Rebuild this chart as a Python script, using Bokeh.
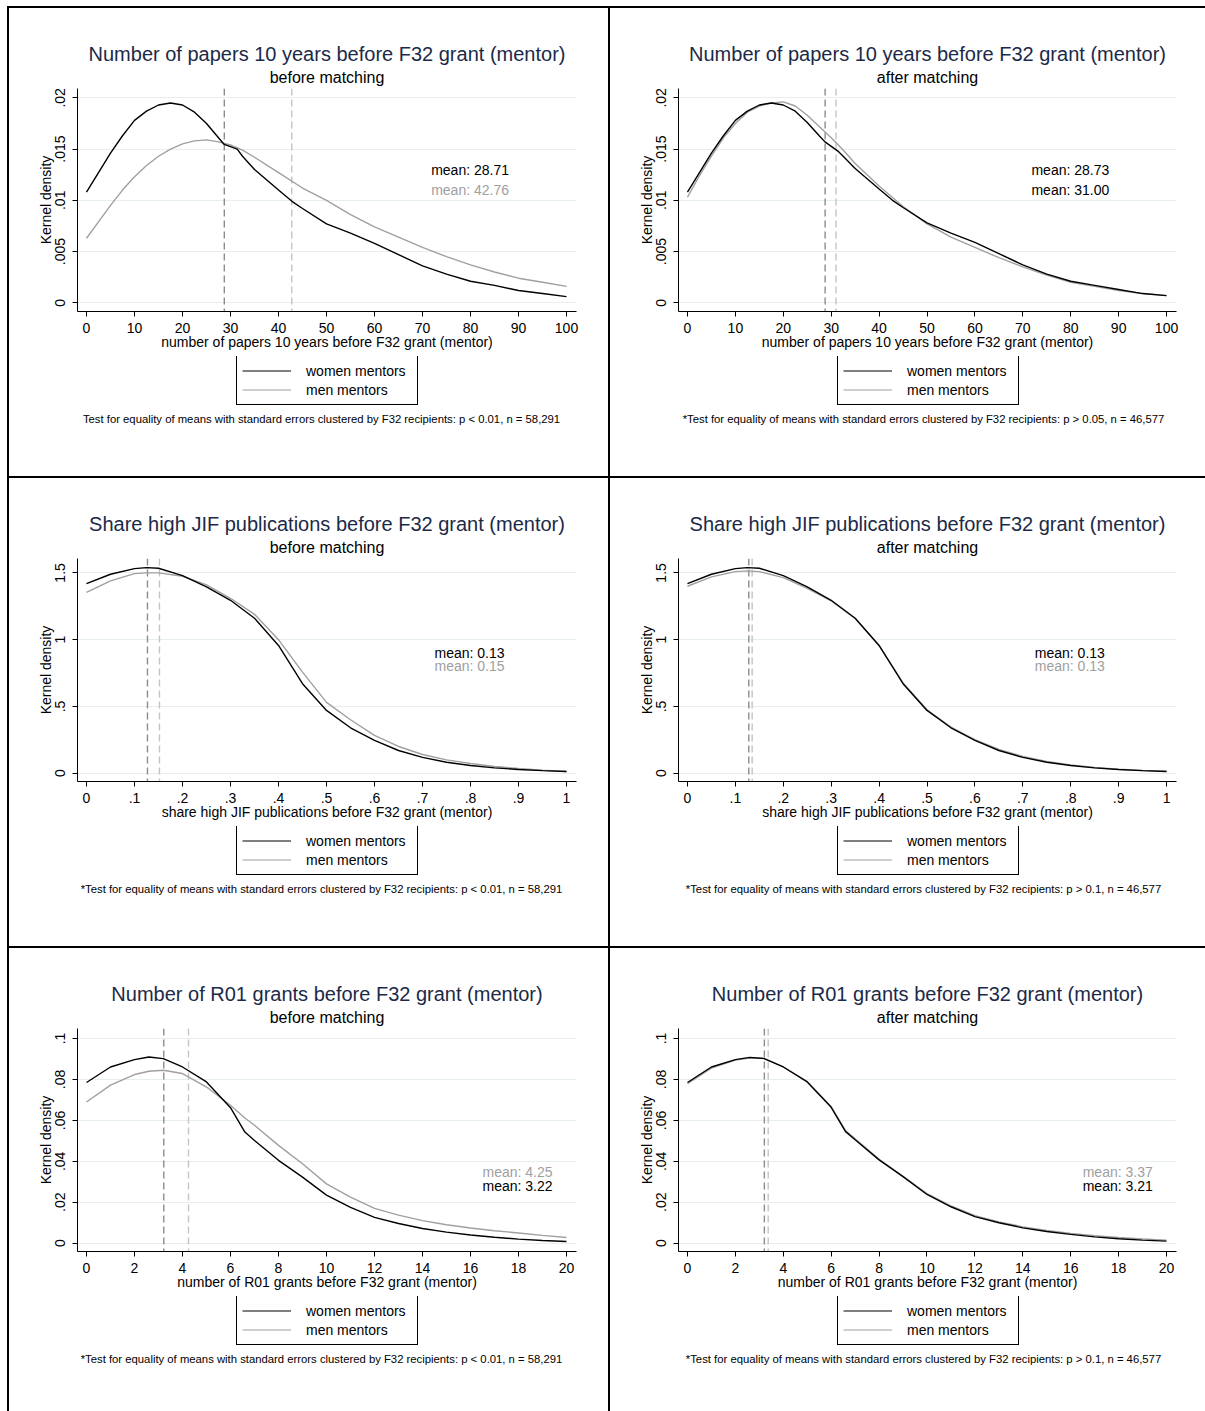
from bokeh.plotting import figure
from bokeh.models import (FixedTicker, Title, Legend, LegendItem, Label, Span, Spacer)
from bokeh.layouts import row, column
from bokeh.embed import file_html
from bokeh.resources import INLINE

FONT = "Liberation Sans"
TITLE_COLOR = "#1c2a48"
BLACK = "#000000"
GRAY = "#a0a0a0"
GRID = "#e6eef1"

# ---------------- data ----------------
# Panel 1/2 : number of papers
pap_x_w = [0, 2.5, 5, 7.5, 10, 12.5, 15, 17.5, 20, 22.5, 25, 27.5, 28.7, 31.4, 32.5, 35, 37.5, 40, 42.8, 45, 50,
           55, 60, 65, 70, 75, 80, 85, 90, 95, 100]
pap_before_w = [0.0108, 0.0127, 0.0146, 0.0163, 0.0178, 0.0187, 0.0193, 0.0195, 0.0193, 0.0186, 0.0175, 0.0161,
                0.01545, 0.0150, 0.0143, 0.0130, 0.0120, 0.0110, 0.0099, 0.0092, 0.0077,
                0.0068, 0.0058, 0.0047, 0.0036, 0.0028, 0.0021, 0.0017, 0.0012, 0.0009, 0.0006]
pap_after_w = [0.0108, 0.0127, 0.0146, 0.0163, 0.0178, 0.0187, 0.0193, 0.0195, 0.0193, 0.0187, 0.0176, 0.0163,
               0.0157, 0.0148, 0.0143, 0.0131, 0.0121, 0.0111, 0.0100, 0.0093, 0.0078,
               0.0068, 0.0059, 0.0048, 0.0037, 0.0028, 0.0021, 0.0017, 0.0013, 0.0009, 0.0007]
pap_x_m = [0, 2.5, 5, 7.5, 10, 12.5, 15, 17.5, 20, 22.5, 25, 27.5, 30, 32.5, 35, 40, 45, 50, 55, 60, 65, 70, 75,
           80, 85, 90, 95, 100]
pap_before_m = [0.0063, 0.0079, 0.0095, 0.0110, 0.0123, 0.0134, 0.0143, 0.0150, 0.0155, 0.0158, 0.0159, 0.0157,
                0.0154, 0.0149, 0.0142, 0.0127, 0.0112, 0.0100, 0.0086, 0.0074, 0.0064, 0.0054, 0.0045,
                0.0037, 0.0030, 0.0024, 0.0020, 0.0016]
pap_after_m = [0.0103, 0.0124, 0.0143, 0.0161, 0.0175, 0.0186, 0.0192, 0.0195, 0.0196, 0.0192, 0.0183, 0.0172,
               0.0161, 0.0149, 0.0136, 0.0114, 0.0094, 0.0077, 0.0064, 0.0054, 0.0044, 0.0035, 0.0027,
               0.0020, 0.0016, 0.0012, 0.0009, 0.0007]

# Panel 3/4 : share high JIF publications
jif_x = [0, 0.05, 0.1, 0.125, 0.15, 0.2, 0.25, 0.3, 0.35, 0.4, 0.45, 0.5, 0.55, 0.6, 0.65, 0.7, 0.75, 0.8, 0.85, 0.9, 0.95, 1.0]
jif_before_w = [1.42, 1.49, 1.532, 1.54, 1.535, 1.48, 1.395, 1.295, 1.16, 0.957, 0.67, 0.47, 0.34, 0.245, 0.17,
                0.118, 0.082, 0.058, 0.040, 0.028, 0.019, 0.013]
jif_before_m = [1.355, 1.44, 1.495, 1.50, 1.50, 1.475, 1.41, 1.31, 1.19, 1.0, 0.757, 0.53, 0.40, 0.283, 0.20,
                0.14, 0.10, 0.073, 0.050, 0.035, 0.022, 0.013]
jif_after_w = [1.42, 1.49, 1.532, 1.54, 1.535, 1.48, 1.395, 1.295, 1.16, 0.957, 0.67, 0.47, 0.34, 0.245, 0.17,
               0.118, 0.082, 0.058, 0.040, 0.028, 0.019, 0.013]
jif_after_m = [1.40, 1.47, 1.51, 1.515, 1.51, 1.465, 1.385, 1.29, 1.16, 0.955, 0.675, 0.475, 0.345, 0.252, 0.178,
               0.125, 0.088, 0.062, 0.043, 0.030, 0.020, 0.014]

# Panel 5/6 : number of R01 grants
r01_x = [0, 1, 2, 2.6, 3.2, 4, 5, 6, 6.6, 7, 8, 9, 10, 11, 12, 13, 14, 15, 16, 17, 18, 19, 20]
r01_before_w = [0.0785, 0.0861, 0.0897, 0.0910, 0.0902, 0.0861, 0.0788, 0.0662, 0.0543, 0.0502, 0.0405, 0.0323,
                0.0235, 0.0175, 0.0126, 0.0096, 0.0072, 0.0054, 0.0040, 0.0029, 0.0020, 0.0013, 0.0008]
r01_before_m = [0.0690, 0.0772, 0.0824, 0.0840, 0.0845, 0.0829, 0.0763, 0.0674, 0.0612, 0.0576, 0.0478, 0.0388,
                0.0290, 0.0225, 0.0170, 0.0137, 0.0110, 0.0090, 0.0074, 0.0061, 0.0050, 0.0038, 0.0028]
r01_after_w = [0.0785, 0.0861, 0.0897, 0.0908, 0.0902, 0.0861, 0.0788, 0.0664, 0.0545, 0.0505, 0.0407, 0.0325,
               0.0238, 0.0178, 0.0130, 0.0100, 0.0075, 0.0057, 0.0043, 0.0031, 0.0022, 0.0015, 0.0010]
r01_after_m = [0.0780, 0.0855, 0.0895, 0.0905, 0.0903, 0.0862, 0.0790, 0.0667, 0.0550, 0.0510, 0.0410, 0.0327,
               0.0242, 0.0182, 0.0135, 0.0104, 0.0080, 0.0062, 0.0048, 0.0037, 0.0028, 0.0021, 0.0015]

# means (dashed lines)
pap_means_before = [28.71, 42.76]
pap_means_after = [28.73, 31.00]
jif_means_before = [0.127, 0.152]
jif_means_after = [0.128, 0.135]
r01_means_before = [3.22, 4.25]
r01_means_after = [3.21, 3.37]

# tick values and labels
pap_xticks = [0, 10, 20, 30, 40, 50, 60, 70, 80, 90, 100]
pap_yticks = [0, 0.005, 0.01, 0.015, 0.02]
pap_ylabels = ["0", ".005", ".01", ".015", ".02"]
jif_xticks = [0, 0.1, 0.2, 0.3, 0.4, 0.5, 0.6, 0.7, 0.8, 0.9, 1.0]
jif_xlabels = ["0", ".1", ".2", ".3", ".4", ".5", ".6", ".7", ".8", ".9", "1"]
jif_yticks = [0, 0.5, 1.0, 1.5]
jif_ylabels = ["0", ".5", "1", "1.5"]
r01_xticks = [0, 2, 4, 6, 8, 10, 12, 14, 16, 18, 20]
r01_yticks = [0, 0.02, 0.04, 0.06, 0.08, 0.1]
r01_ylabels = ["0", ".02", ".04", ".06", ".08", ".1"]

titles = ["Number of papers 10 years before F32 grant (mentor)",
          "Share high JIF publications before F32 grant (mentor)",
          "Number of R01 grants before F32 grant (mentor)"]
xlabels = ["number of papers 10 years before F32 grant (mentor)",
           "share high JIF publications before F32 grant (mentor)",
           "number of R01 grants before F32 grant (mentor)"]
subtitles = ["before matching", "after matching"]
legend_labels = ["women mentors", "men mentors"]
NOTE = "Test for equality of means with standard errors clustered by F32 recipients: "
notes = [[NOTE + "p < 0.01, n = 58,291", "*" + NOTE + "p > 0.05, n = 46,577"],
         ["*" + NOTE + "p < 0.01, n = 58,291", "*" + NOTE + "p > 0.1, n = 46,577"],
         ["*" + NOTE + "p < 0.01, n = 58,291", "*" + NOTE + "p > 0.1, n = 46,577"]]

mean_texts = [
    [[("mean: 28.71", BLACK), ("mean: 42.76", GRAY)], [("mean: 28.73", BLACK), ("mean: 31.00", BLACK)]],
    [[("mean: 0.13", BLACK), ("mean: 0.15", GRAY)], [("mean: 0.13", BLACK), ("mean: 0.13", GRAY)]],
    [[("mean: 4.25", GRAY), ("mean: 3.22", BLACK)], [("mean: 3.37", GRAY), ("mean: 3.21", BLACK)]],
]
mean_pos = [
    (71.8, [0.0130, 0.0110]),
    (0.725, [0.898, 0.80]),
    (16.5, [0.0346, 0.0278]),
]

x_ranges = [(-1.875, 102.08), (-0.01875, 1.0208), (-0.375, 20.417)]
y_ranges = [(-0.00085, 0.02091), (-0.0623, 1.608), (-0.00406, 0.1049)]

rows_data = [
    dict(xw=pap_x_w, xm=pap_x_m, w=[pap_before_w, pap_after_w], m=[pap_before_m, pap_after_m],
         means=[pap_means_before, pap_means_after], xt=pap_xticks, xl=None, yt=pap_yticks, yl=pap_ylabels),
    dict(xw=jif_x, xm=jif_x, w=[jif_before_w, jif_after_w], m=[jif_before_m, jif_after_m],
         means=[jif_means_before, jif_means_after], xt=jif_xticks, xl=jif_xlabels, yt=jif_yticks, yl=jif_ylabels),
    dict(xw=r01_x, xm=r01_x, w=[r01_before_w, r01_after_w], m=[r01_before_m, r01_after_m],
         means=[r01_means_before, r01_means_after], xt=r01_xticks, xl=None, yt=r01_yticks, yl=r01_ylabels),
]

COL_W = [599, 595]
ROW_H = [468, 468, 463]
FRAME_L = 68
FRAME_R = [567, 566]
FRAME_T = 80
FRAME_B = 303
MAIN_H = 348          # height of the chart part of each cell; legend + note go below it


def make_panel(r, c):
    d = rows_data[r]
    x0, x1 = x_ranges[r]
    y0, y1 = y_ranges[r]
    p = figure(width=COL_W[c], height=MAIN_H, output_backend="svg", toolbar_location=None,
               title_location=None, x_range=(x0, x1), y_range=(y0, y1),
               min_border_left=FRAME_L, min_border_right=COL_W[c] - FRAME_R[c],
               min_border_top=FRAME_T, min_border_bottom=MAIN_H - FRAME_B)
    p.outline_line_color = None
    p.background_fill_color = "white"
    p.border_fill_color = "white"

    p.add_layout(Title(text=subtitles[c], align="center", text_font=FONT, text_font_size="16px",
                       text_font_style="normal", text_color=BLACK, standoff=6), "above")
    p.add_layout(Title(text=titles[r], align="center", text_font=FONT, text_font_size="20px",
                       text_font_style="normal", text_color=TITLE_COLOR, standoff=-2), "above")

    for ax in (p.xaxis[0], p.yaxis[0]):
        ax.axis_line_color = BLACK
        ax.major_tick_line_color = BLACK
        ax.major_tick_out = 5
        ax.major_tick_in = 0
        ax.minor_tick_line_color = None
        ax.major_label_text_font = FONT
        ax.major_label_text_font_size = "14px"
        ax.major_label_text_color = BLACK
        ax.axis_label_text_font = FONT
        ax.axis_label_text_font_size = "14px"
        ax.axis_label_text_font_style = "normal"
        ax.axis_label_text_color = BLACK
    p.xaxis.ticker = FixedTicker(ticks=d["xt"])
    if d["xl"]:
        p.xaxis.major_label_overrides = {t: l for t, l in zip(d["xt"], d["xl"])}
    p.xaxis.axis_label = xlabels[r]
    p.xaxis.major_label_standoff = 6
    p.xaxis.axis_label_standoff = -2
    p.yaxis.ticker = FixedTicker(ticks=d["yt"])
    p.yaxis.major_label_overrides = {t: l for t, l in zip(d["yt"], d["yl"])}
    p.yaxis.major_label_orientation = "vertical"
    p.yaxis.axis_label = "Kernel density"
    p.yaxis.major_label_standoff = 7
    p.yaxis.axis_label_standoff = -1

    p.xgrid.visible = False
    p.ygrid.grid_line_color = GRID
    p.ygrid.grid_line_width = 1.2

    mw, mm = d["means"][c]
    p.add_layout(Span(location=mm, dimension="height", line_color="#c4c4c4", line_dash="7 4",
                      line_width=1.4, level="underlay"))
    p.add_layout(Span(location=mw, dimension="height", line_color="#8c8c8c", line_dash="7 4",
                      line_width=1.4, level="underlay"))

    p.line(d["xm"], d["m"][c], line_color=GRAY, line_width=1.4)
    p.line(d["xw"], d["w"][c], line_color=BLACK, line_width=1.4)

    mx, mys = mean_pos[r]
    for (txt, col), my in zip(mean_texts[r][c], mys):
        p.add_layout(Label(x=mx, y=my, text=txt, text_color=col, text_font=FONT, text_font_size="14px",
                           text_baseline="middle", text_align="left"))

    # ---- legend + note strip; its frame is aligned with the chart frame, ranges in pixels ----
    sh = ROW_H[r] - MAIN_H
    fw = FRAME_R[c] - FRAME_L
    s = figure(width=COL_W[c], height=sh, output_backend="svg", toolbar_location=None,
               title_location=None, x_range=(0, fw), y_range=(0, sh),
               x_axis_location=None, y_axis_location=None,
               min_border_left=FRAME_L, min_border_right=COL_W[c] - FRAME_R[c],
               min_border_top=0, min_border_bottom=0)
    s.outline_line_color = None
    s.xgrid.visible = False
    s.ygrid.visible = False
    s.background_fill_color = "white"
    s.border_fill_color = "white"
    lw = s.line([-100, -90], [-100, -100], line_color=BLACK, line_width=1.2)
    lm = s.line([-100, -90], [-100, -100], line_color=GRAY, line_width=1.2)
    leg = Legend(items=[LegendItem(label=legend_labels[0], renderers=[lw]),
                        LegendItem(label=legend_labels[1], renderers=[lm])],
                 location=(159, sh - 49), orientation="vertical", border_line_color=BLACK,
                 border_line_width=1, border_line_alpha=1, padding=5, spacing=0, margin=0,
                 label_text_font=FONT, label_text_font_size="14px", label_text_color=BLACK,
                 label_height=19, glyph_height=19, glyph_width=49, label_width=106, label_standoff=15,
                 background_fill_color="white", background_fill_alpha=1)
    s.add_layout(leg)
    s.add_layout(Label(x=244 + c, y=sh - 62, text=notes[r][c], text_font=FONT,
                       text_font_size="11.3px", text_color=BLACK, text_align="center",
                       text_baseline="middle"))
    return column(p, s, spacing=0)


def hline():
    return Spacer(width=1198, height=2, styles={"background-color": "black"})


def vline(h):
    return Spacer(width=2, height=h, styles={"background-color": "black"})


rows = [hline()]
for r in range(3):
    rows.append(row(vline(ROW_H[r]), make_panel(r, 0), vline(ROW_H[r]), make_panel(r, 1)))
    if r < 2:
        rows.append(hline())

layout = column(*rows, margin=(6, 0, 0, 7))

open("out.html", "w").write(file_html(layout, INLINE))
